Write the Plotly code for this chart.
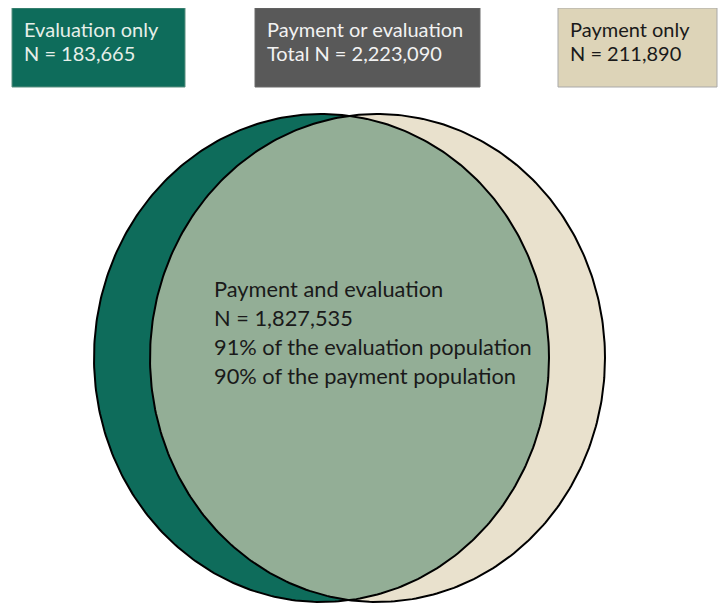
import numpy as np
import plotly.graph_objects as go

# ---- data ----
segment_names = ["Evaluation only", "Payment and evaluation", "Payment only"]
segment_counts = [183665, 1827535, 211890]
total_label = "Payment or evaluation"
total_count = 2223090
pct_of_evaluation = 91
pct_of_payment = 90

# ---- layout constants (pixels) ----
W, H = 727, 612
OFF = 8  # page body margin compensation
TEAL = "#0e6c5b"
SAGE = "#93ae96"
BEIGE = "#e9e1cd"
GRAY = "#595959"
BOXBEIGE = "#ddd4b8"
FONT = "Lato"

left_c = (321.5, 358.0)
right_c = (377.5, 358.0)
rx, ry = 227.5, 244.0

fig = go.Figure()


def ellipse_pts(c, n=400):
    t = np.linspace(0, 2 * np.pi, n)
    return c[0] + rx * np.cos(t), c[1] + ry * np.sin(t)


# base circles
for c, col in [(left_c, TEAL), (right_c, BEIGE)]:
    x, y = ellipse_pts(c)
    fig.add_trace(go.Scatter(x=x, y=y, mode="lines", fill="toself",
                             fillcolor=col, line=dict(width=0), hoverinfo="skip"))

# intersection lens
dx = (right_c[0] - left_c[0]) / 2
ang = np.arccos(dx / rx)
t1 = np.linspace(-ang, ang, 200)
x1 = left_c[0] + rx * np.cos(t1)
y1 = left_c[1] + ry * np.sin(t1)
t2 = np.linspace(np.pi - ang, np.pi + ang, 200)
x2 = right_c[0] + rx * np.cos(t2)
y2 = right_c[1] + ry * np.sin(t2)
fig.add_trace(go.Scatter(x=np.concatenate([x1, x2]), y=np.concatenate([y1, y2]),
                         mode="lines", fill="toself", fillcolor=SAGE,
                         line=dict(width=0), hoverinfo="skip"))

# outlines
for c in [left_c, right_c]:
    x, y = ellipse_pts(c)
    fig.add_trace(go.Scatter(x=x, y=y, mode="lines",
                             line=dict(color="black", width=2), hoverinfo="skip"))

# top boxes
boxes = [
    (12, 185, TEAL, "#e6efe9", [segment_names[0], f"N = {segment_counts[0]:,}"], "#5a8f80"),
    (255, 480, GRAY, "#f2f2f2", [total_label, f"Total N = {total_count:,}"], "#6a6a6a"),
    (558, 717, BOXBEIGE, "#1a1a1a", [segment_names[2], f"N = {segment_counts[2]:,}"], "#a9a9a9"),
]
for x0, x1b, fc, tc, lines, lc in boxes:
    fig.add_shape(type="rect", x0=x0, x1=x1b, y0=8, y1=87,
                  fillcolor=fc, line=dict(color=lc, width=1), layer="above")
    for i, txt in enumerate(lines):
        fig.add_annotation(x=x0 + 10, y=29 + i * 24, text=txt, showarrow=False,
                           xanchor="left", yanchor="middle",
                           font=dict(family=FONT, size=20, color=tc))

center_lines = [
    segment_names[1],
    f"N = {segment_counts[1]:,}",
    f"{pct_of_evaluation}% of the evaluation population",
    f"{pct_of_payment}% of the payment population",
]
for i, txt in enumerate(center_lines):
    fig.add_annotation(x=212, y=288 + i * 29, text=txt, showarrow=False,
                       xanchor="left", yanchor="middle",
                       font=dict(family=FONT, size=21.8, color="#1a1a1a"))

fig.update_layout(
    width=W, height=H, margin=dict(l=0, r=0, t=0, b=0),
    paper_bgcolor="white", plot_bgcolor="white", showlegend=False,
    xaxis=dict(range=[OFF, W + OFF], visible=False, fixedrange=True),
    yaxis=dict(range=[H + OFF, OFF], visible=False, fixedrange=True),
)
fig.write_html("out.html")
